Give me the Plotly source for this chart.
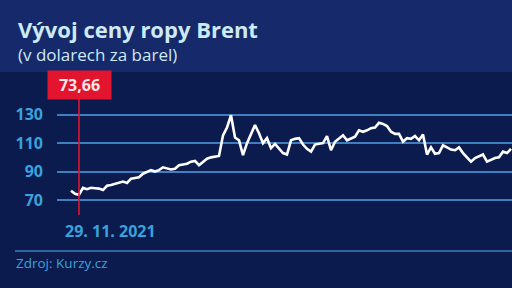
import plotly.graph_objects as go

# ---- data ----
title_text = "Vývoj ceny ropy Brent"
subtitle_text = "(v dolarech za barel)"
source_text = "Zdroj: Kurzy.cz"
marker_date_label = "29. 11. 2021"
marker_index = 2
marker_value = 73.66

prices = [
    76.5, 74.3, 73.66, 78.5, 77.6, 78.6, 78.3, 78.0, 77.0, 80.0,
    80.5, 81.5, 82.0, 83.0, 82.0, 85.0, 85.5, 86.0, 88.5, 89.5,
    91.0, 90.0, 91.0, 93.0, 92.5, 91.5, 92.0, 94.5, 95.0, 95.5,
    97.0, 97.5, 94.5, 97.0, 99.0, 100.0, 100.5, 101.0, 115.5, 121.0,
    129.6, 114.0, 112.0, 101.6, 110.0, 116.0, 122.7, 117.0, 110.0, 113.5,
    106.5, 109.5, 106.0, 103.0, 102.0, 112.0, 113.0, 113.5, 109.0, 106.0,
    104.0, 109.0, 109.5, 110.0, 115.0, 105.0, 111.0, 113.0, 115.5, 112.0,
    113.5, 114.5, 119.0, 118.0, 119.0, 120.5, 121.0, 124.3, 123.5, 122.0,
    118.0, 116.5, 116.5, 111.0, 113.5, 113.0, 115.0, 112.0, 116.0, 102.0,
    107.0, 102.5, 103.0, 108.5, 107.0, 105.5, 105.0, 107.0, 103.0, 100.0,
    97.0, 99.5, 101.0, 102.0, 97.0, 98.5, 99.5, 100.0, 104.0, 103.0,
    106.0,
]
days = list(range(len(prices)))
y_ticks = [70, 90, 110, 130]

# ---- style ----
W, H = 512, 288
BG = "#0c1b4e"
HEADER = "#16296a"
GRID = "#3f7fc0"
LABEL = "#3aa2dc"
RED = "#e3142d"
PALE = "#cdeaf7"

def py(p):
    return 1 - p / H

fig = go.Figure()
fig.add_trace(go.Scatter(
    x=days, y=prices, mode="lines",
    line=dict(color="white", width=2.6, shape="linear"),
    hoverinfo="skip", showlegend=False,
))

shapes = [
    dict(type="rect", xref="paper", yref="paper", x0=0, x1=1, y0=py(72), y1=1,
         fillcolor=HEADER, line=dict(width=0), layer="below"),
    dict(type="line", xref="paper", yref="paper", x0=15 / W, x1=1, y0=py(251), y1=py(251),
         line=dict(color=GRID, width=1.5)),
    dict(type="line", xref="x", yref="paper", x0=marker_index, x1=marker_index,
         y0=py(215), y1=py(99), line=dict(color=RED, width=1.6)),
]

annotations = [
    dict(text=f"<b>{title_text}</b>", xref="paper", yref="paper", x=16 / W, y=py(29),
         xanchor="left", yanchor="middle", showarrow=False,
         font=dict(family="Open Sans", size=22, color=PALE)),
    dict(text=subtitle_text, xref="paper", yref="paper", x=16 / W, y=py(54),
         xanchor="left", yanchor="middle", showarrow=False,
         font=dict(family="Open Sans", size=17, color=PALE)),
    dict(text=f"<b>{marker_value:.2f}</b>".replace(".", ","), xref="x", yref="paper",
         x=marker_index, y=py(85), xanchor="center", yanchor="middle", showarrow=False,
         bgcolor=RED, width=59, height=24, borderpad=2,
         font=dict(family="Open Sans", size=16, color="#fbe6e8")),
    dict(text=f"<b>{marker_date_label}</b>", xref="paper", yref="paper", x=110 / W, y=py(231),
         xanchor="center", yanchor="middle", showarrow=False,
         font=dict(family="Open Sans", size=16, color=LABEL)),
    dict(text=source_text, xref="paper", yref="paper", x=14 / W, y=py(263),
         xanchor="left", yanchor="middle", showarrow=False,
         font=dict(family="Open Sans", size=13.5, color=LABEL)),
]

# axis scaling: 4 px per index step, first point at px 71; plot domain starts at px 57
x_dom0 = 57 / W
x0 = -(71 - 57) / 4
x1 = x0 + (W - 57) / 4
# y: 70 at px 200, 130 at px 114.7
ppu = (200 - 114.7) / 60
y_top = 130 + 114.7 / ppu
y_bot = 70 - (H - 200) / ppu

fig.update_layout(
    width=W, height=H,
    margin=dict(l=0, r=0, t=0, b=0),
    paper_bgcolor=BG, plot_bgcolor="rgba(0,0,0,0)",
    shapes=shapes, annotations=annotations,
    xaxis=dict(domain=[x_dom0, 1], range=[x0, x1], showgrid=False, zeroline=False,
               showticklabels=False, showline=False, fixedrange=True),
    yaxis=dict(domain=[0, 1], range=[y_bot, y_top], tickvals=y_ticks,
               ticktext=[str(v) for v in y_ticks], showgrid=True, gridcolor=GRID,
               gridwidth=1.6, zeroline=False, showline=False, ticks="",
               ticklabelstandoff=13, automargin=False,
               tickfont=dict(family="Open Sans", size=16, color=LABEL, weight="bold"),
               fixedrange=True),
    showlegend=False,
)

fig.write_html("out.html", config={"displayModeBar": False})
